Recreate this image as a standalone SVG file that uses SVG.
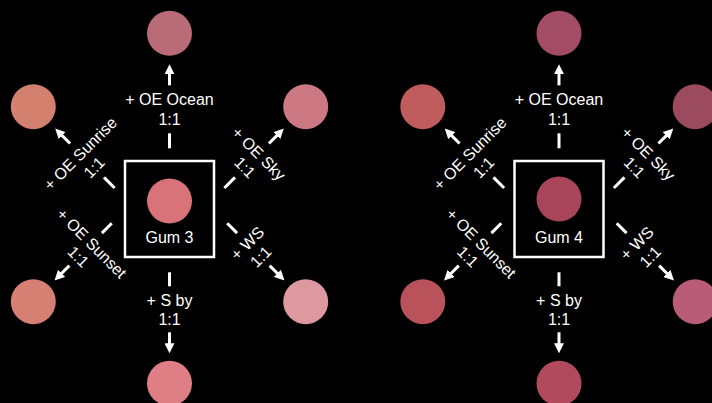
<svg xmlns="http://www.w3.org/2000/svg" width="712" height="403" viewBox="0 0 712 403">
  <defs>
    <marker id="head" viewBox="0 0 10 10" refX="3" refY="5" markerWidth="10" markerHeight="10" markerUnits="userSpaceOnUse" orient="auto">
      <path d="M0,0 L10,5 L0,10 z" fill="#fff"/>
    </marker>
    <style>
      .bg { fill: #000; }
      .box { fill: none; stroke: #fff; stroke-width: 2.5; }
      .arrow { stroke: #fff; stroke-width: 3; fill: none; marker-end: url(#head); }
      .dash { stroke: #fff; stroke-width: 3; }
      text { font-family: "Liberation Sans", Arial, Helvetica, sans-serif; font-size: 16px; fill: #fff; text-anchor: middle; }
    </style>
  </defs>

  <rect class="bg" x="0" y="0" width="712" height="403"/>

  <!-- ===== Gum 3 ===== -->
  <g id="gum3">
    <rect class="box" x="125" y="161" width="89" height="96"/>
    <circle cx="169.5" cy="201" r="22.5" fill="#d8737a"/>
    <text x="169.5" y="243">Gum 3</text>
  </g>
  <g id="gum3-ocean"><circle cx="169.5" cy="33.3" r="22.5" fill="#b96c78"/></g>
  <g id="gum3-sunrise"><circle cx="33.3" cy="106.7" r="22.5" fill="#d4806f"/></g>
  <g id="gum3-sky"><circle cx="305.7" cy="106.7" r="22.5" fill="#cc7983"/></g>
  <g id="gum3-sunset"><circle cx="33.3" cy="301.7" r="22.5" fill="#d58073"/></g>
  <g id="gum3-ws"><circle cx="305.7" cy="301.7" r="22.5" fill="#dd98a0"/></g>
  <g id="gum3-sby"><circle cx="169.5" cy="383.3" r="22.5" fill="#e07e86"/></g>

  <!-- ===== Gum 4 ===== -->
  <g id="gum4">
    <rect class="box" x="514.5" y="161" width="89" height="96"/>
    <circle cx="559" cy="199" r="22.5" fill="#a9455b"/>
    <text x="559" y="243">Gum 4</text>
  </g>
  <g id="gum4-ocean"><circle cx="559" cy="33.3" r="22.5" fill="#a34c65"/></g>
  <g id="gum4-sunrise"><circle cx="422.8" cy="106.7" r="22.5" fill="#c05b5e"/></g>
  <g id="gum4-sky"><circle cx="695.2" cy="106.7" r="22.5" fill="#9c4a5e"/></g>
  <g id="gum4-sunset"><circle cx="422.8" cy="301.7" r="22.5" fill="#b9525a"/></g>
  <g id="gum4-ws"><circle cx="695.2" cy="301.7" r="22.5" fill="#b85c77"/></g>
  <g id="gum4-sby"><circle cx="559" cy="383.3" r="22.5" fill="#b04a5c"/></g>

  <!-- connectors: each branch is drawn with its swatch at the local origin -->
  <g id="connectors">
    <!-- Gum 3 branches -->
    <g transform="translate(169.5,33.3)">
      <line class="arrow" x1="0" y1="52" x2="0" y2="38"/>
      <text x="0" y="72">+ OE Ocean</text><text x="0" y="91.5">1:1</text>
      <line class="dash" x1="0" y1="100" x2="0" y2="115"/>
    </g>
    <g transform="translate(33.3,106.7) rotate(-45)">
      <line class="arrow" x1="0" y1="52" x2="0" y2="38"/>
      <text x="0" y="72">+ OE Sunrise</text><text x="0" y="91.5">1:1</text>
      <line class="dash" x1="0" y1="100" x2="0" y2="115"/>
    </g>
    <g transform="translate(305.7,106.7) rotate(45)">
      <line class="arrow" x1="0" y1="52" x2="0" y2="38"/>
      <text x="0" y="72">+ OE Sky</text><text x="0" y="91.5">1:1</text>
      <line class="dash" x1="0" y1="100" x2="0" y2="115"/>
    </g>
    <g transform="translate(33.3,301.7) rotate(45)">
      <line class="arrow" x1="0" y1="-51" x2="0" y2="-37"/>
      <text x="0" y="-77">+ OE Sunset</text><text x="0" y="-58">1:1</text>
      <line class="dash" x1="0" y1="-97" x2="0" y2="-111"/>
    </g>
    <g transform="translate(305.7,301.7) rotate(-45)">
      <line class="arrow" x1="0" y1="-51" x2="0" y2="-37"/>
      <text x="0" y="-77">+ WS</text><text x="0" y="-58">1:1</text>
      <line class="dash" x1="0" y1="-97" x2="0" y2="-111"/>
    </g>
    <g transform="translate(169.5,383.3)">
      <line class="arrow" x1="0" y1="-51" x2="0" y2="-37"/>
      <text x="0" y="-77">+ S by</text><text x="0" y="-58">1:1</text>
      <line class="dash" x1="0" y1="-97" x2="0" y2="-111"/>
    </g>

    <!-- Gum 4 branches -->
    <g transform="translate(559,33.3)">
      <line class="arrow" x1="0" y1="52" x2="0" y2="38"/>
      <text x="0" y="72">+ OE Ocean</text><text x="0" y="91.5">1:1</text>
      <line class="dash" x1="0" y1="100" x2="0" y2="115"/>
    </g>
    <g transform="translate(422.8,106.7) rotate(-45)">
      <line class="arrow" x1="0" y1="52" x2="0" y2="38"/>
      <text x="0" y="72">+ OE Sunrise</text><text x="0" y="91.5">1:1</text>
      <line class="dash" x1="0" y1="100" x2="0" y2="115"/>
    </g>
    <g transform="translate(695.2,106.7) rotate(45)">
      <line class="arrow" x1="0" y1="52" x2="0" y2="38"/>
      <text x="0" y="72">+ OE Sky</text><text x="0" y="91.5">1:1</text>
      <line class="dash" x1="0" y1="100" x2="0" y2="115"/>
    </g>
    <g transform="translate(422.8,301.7) rotate(45)">
      <line class="arrow" x1="0" y1="-51" x2="0" y2="-37"/>
      <text x="0" y="-77">+ OE Sunset</text><text x="0" y="-58">1:1</text>
      <line class="dash" x1="0" y1="-97" x2="0" y2="-111"/>
    </g>
    <g transform="translate(695.2,301.7) rotate(-45)">
      <line class="arrow" x1="0" y1="-51" x2="0" y2="-37"/>
      <text x="0" y="-77">+ WS</text><text x="0" y="-58">1:1</text>
      <line class="dash" x1="0" y1="-97" x2="0" y2="-111"/>
    </g>
    <g transform="translate(559,383.3)">
      <line class="arrow" x1="0" y1="-51" x2="0" y2="-37"/>
      <text x="0" y="-77">+ S by</text><text x="0" y="-58">1:1</text>
      <line class="dash" x1="0" y1="-97" x2="0" y2="-111"/>
    </g>
  </g>
</svg>
